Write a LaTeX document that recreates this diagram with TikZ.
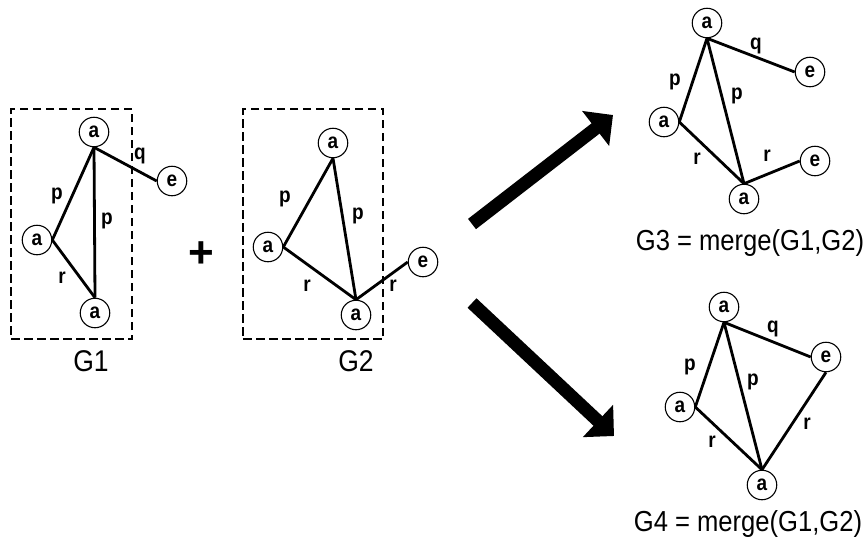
\documentclass[tikz,border=0pt]{standalone}
\usepackage{fontspec}
\usepackage{graphicx}
\setmainfont{Liberation Sans}
\usetikzlibrary{arrows.meta}
\newcommand{\tallt}[1]{\scalebox{1}[1.13]{#1}}
\tikzset{
  vtx/.style={circle,draw,line width=1.1pt,minimum size=29.5pt,inner sep=0pt,
    font=\fontsize{19}{19}\selectfont\bfseries},
  lbl/.style={inner sep=0pt,font=\fontsize{19}{19}\selectfont\bfseries},
  captxt/.style={inner sep=0pt,font=\fontsize{26.5}{26.5}\selectfont},
  mergetxt/.style={inner sep=0pt,font=\fontsize{25.6}{25.6}\selectfont},
  conn/.style={line width=2.8pt},
  dashbox/.style={draw,line width=1.8pt,dash pattern=on 8.5pt off 4.5pt},
  bigarrow/.style={line width=13pt,-{Triangle[length=22pt,width=43pt]}}
}
\begin{document}
\begin{tikzpicture}[x=1pt,y=-1pt]
\useasboundingbox (0,0) rectangle (864,542);
% G1
\node[dashbox,minimum width=121pt,minimum height=230pt,inner sep=0pt] (box1) at (71.5,224) {};
\node[vtx] (a11) at (94,132) {\tallt{a}};
\node[vtx] (a12) at (37,240) {\tallt{a}};
\node[vtx] (a13) at (95,313) {\tallt{a}};
\node[vtx] (e1) at (172,181) {\tallt{e}};
\draw[conn] (a11.south) -- (a12.east);
\draw[conn] (a11.south) -- (a13.north);
\draw[conn] (a12.east) -- (a13.north);
\draw[conn] (a11.south) -- (e1.west);
\node[lbl] (l11) at (57,196) {\tallt{p}};
\node[lbl] (l12) at (107,221) {\tallt{p}};
\node[lbl] (l13) at (140,156) {\tallt{q}};
\node[lbl] (l14) at (62,278) {\tallt{r}};
\node[captxt] (c1) at (91,361) {\tallt{G1}};
% plus
\node[inner sep=0pt,font=\fontsize{44}{44}\selectfont\bfseries] (plus) at (201,255) {+};
% G2
\node[dashbox,minimum width=140pt,minimum height=230pt,inner sep=0pt] (box2) at (313,224) {};
\node[vtx] (a21) at (333,143) {\tallt{a}};
\node[vtx] (a22) at (268,247) {\tallt{a}};
\node[vtx] (a23) at (356,315) {\tallt{a}};
\node[vtx] (e2) at (423,262) {\tallt{e}};
\draw[conn] (a21.south) -- (a22.east);
\draw[conn] (a21.south) -- (a23.north);
\draw[conn] (a22.east) -- (a23.north);
\draw[conn] (a23.north) -- (e2.west);
\node[lbl] (l21) at (285,199) {\tallt{p}};
\node[lbl] (l22) at (358,216) {\tallt{p}};
\node[lbl] (l23) at (307,286) {\tallt{r}};
\node[lbl] (l24) at (393,286) {\tallt{r}};
\node[captxt] (c2) at (356,361) {\tallt{G2}};
% arrows
\coordinate (t1) at (472,224);
\coordinate (h1) at (613,115);
\coordinate (t2) at (472,303);
\coordinate (h2) at (614,436);
\draw[bigarrow] (t1) -- (h1);
\draw[bigarrow] (t2) -- (h2);
% G3
\node[vtx] (a31) at (707,23) {\tallt{a}};
\node[vtx] (e31) at (810,72) {\tallt{e}};
\node[vtx] (a32) at (664,122) {\tallt{a}};
\node[vtx] (e32) at (815,161) {\tallt{e}};
\node[vtx] (a33) at (744,199) {\tallt{a}};
\draw[conn] (a31.south) -- (e31.west);
\draw[conn] (a31.south) -- (a32.east);
\draw[conn] (a31.south) -- (a33.north);
\draw[conn] (a32.east) -- (a33.north);
\draw[conn] (a33.north) -- (e32.west);
\node[lbl] (l31) at (756,46) {\tallt{q}};
\node[lbl] (l32) at (675,82) {\tallt{p}};
\node[lbl] (l33) at (737,96) {\tallt{p}};
\node[lbl] (l34) at (697,159) {\tallt{r}};
\node[lbl] (l35) at (767,156) {\tallt{r}};
\node[mergetxt] (c3) at (750,243) {\tallt{G3 = merge(G1,G2)}};
% G4
\node[vtx] (a41) at (724,307) {\tallt{a}};
\node[vtx] (e4) at (826,357) {\tallt{e}};
\node[vtx] (a42) at (680,407) {\tallt{a}};
\node[vtx] (a43) at (762,485) {\tallt{a}};
\draw[conn] (a41.south) -- (e4.west);
\draw[conn] (a41.south) -- (a42.east);
\draw[conn] (a41.south) -- (a43.north);
\draw[conn] (a42.east) -- (a43.north);
\draw[conn] (e4.south) -- (a43.north);
\node[lbl] (l41) at (773,329) {\tallt{q}};
\node[lbl] (l42) at (690,367) {\tallt{p}};
\node[lbl] (l43) at (753,382) {\tallt{p}};
\node[lbl] (l44) at (807,424) {\tallt{r}};
\node[lbl] (l45) at (712,442) {\tallt{r}};
\node[mergetxt] (c4) at (748,524) {\tallt{G4 = merge(G1,G2)}};
\end{tikzpicture}
\end{document}
